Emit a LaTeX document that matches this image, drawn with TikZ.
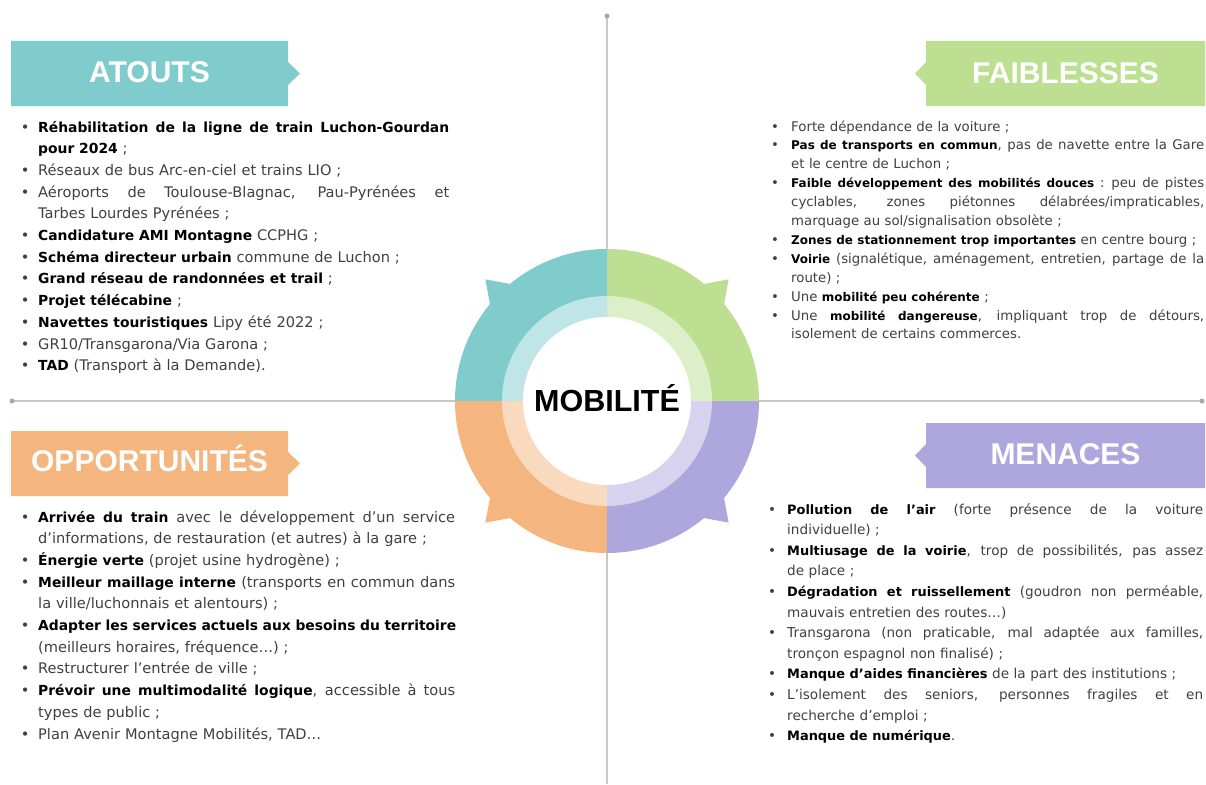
\documentclass[tikz,border=0pt]{standalone}
\usepackage{fontspec}
\setmainfont{DejaVu Sans}
\newfontfamily\headfont{Liberation Sans}
\newfontfamily\boldfam{DejaVu Sans}[Scale=0.95]
\newfontfamily\boldfamS{DejaVu Sans}[Scale=0.90]
\definecolor{tealc}{HTML}{80CBCC}
\definecolor{teall}{HTML}{BFE5E6}
\definecolor{greenc}{HTML}{BCDF91}
\definecolor{greenl}{HTML}{DDEFC8}
\definecolor{orangec}{HTML}{F4B57F}
\definecolor{orangel}{HTML}{F9DABF}
\definecolor{purplec}{HTML}{AEA7DE}
\definecolor{purplel}{HTML}{D7D3EF}
\definecolor{textgray}{HTML}{404040}
\definecolor{axisc}{HTML}{C8C8C8}
\definecolor{axisdot}{HTML}{A8A8A8}
\newlength\bw \newlength\jw
\let\curbold\boldfam
\newcommand\bfx[1]{{\curbold\bfseries\color{black}#1}}
\newcommand\bul{\makebox[\bw][l]{•}}
\newcommand\jsp{\spaceskip=\fontdimen2\font plus 1fill\relax}
\newcommand\ItJ[1]{\noindent\bul\makebox[\jw][s]{\jsp#1}\par}
\newcommand\ItL[1]{\noindent\bul#1\par}
\newcommand\CoJ[1]{\noindent\hspace*{\bw}\makebox[\jw][s]{\jsp#1}\par}
\newcommand\CoL[1]{\noindent\hspace*{\bw}#1\par}
\tikzset{
  axis/.style={draw=axisc, line width=1.2pt},
  head/.style={font=\headfont\bfseries\fontsize{30}{30}\selectfont, text=white, inner sep=0pt, text height=21.5pt, text depth=0pt},
  blk/.style={inner sep=0pt, anchor=base west, align=left, text=textgray},
}
\begin{document}
\begin{tikzpicture}[x=1pt,y=-1pt]
\useasboundingbox (0,0) rectangle (1206,784);
\fill[white] (0,0) rectangle (1206,784);
% axes
\coordinate (vt) at (607,16);
\coordinate (vb) at (607,784);
\coordinate (hl) at (12,401);
\coordinate (hr) at (1202,401);
\draw[axis] (vt) -- (vb);
\draw[axis] (hl) -- (hr);
\fill[axisdot] (vt) circle (2.5);
\fill[axisdot] (hl) circle (2.5);
\fill[axisdot] (hr) circle (2.5);
% banners
\fill[tealc] (11,41) -- (288,41) -- (288,62) -- (300,73.5) -- (288,85) -- (288,106) -- (11,106) -- cycle;
\node[head] (hA) at (149.5,71.5) {ATOUTS};
\fill[greenc] (926,41) -- (1205,41) -- (1205,106) -- (926,106) -- (926,85) -- (915,73.5) -- (926,62) -- cycle;
\node[head] (hF) at (1065.5,72.5) {FAIBLESSES};
\fill[orangec] (11,431) -- (288,431) -- (288,452) -- (300,463.5) -- (288,475) -- (288,496) -- (11,496) -- cycle;
\node[head] (hO) at (149.5,461) {OPPORTUNITÉS};
\fill[purplec] (926,423) -- (1205,423) -- (1205,488) -- (926,488) -- (926,467) -- (915,455.5) -- (926,444) -- cycle;
\node[head] (hM) at (1065.5,454) {MENACES};
% central wheel
\begin{scope}[shift={(607,401)}, yscale=-1]
  \fill[greenc] (0,0) -- (0:152) arc[start angle=0, end angle=90, radius=152] -- cycle;
  \fill[tealc] (0,0) -- (90:152) arc[start angle=90, end angle=180, radius=152] -- cycle;
  \fill[orangec] (0,0) -- (180:152) arc[start angle=180, end angle=270, radius=152] -- cycle;
  \fill[purplec] (0,0) -- (270:152) arc[start angle=270, end angle=360, radius=152] -- cycle;
  \fill[greenc] (39:150) -- (45:172) -- (51:150) -- cycle;
  \fill[tealc] (129:150) -- (135:172) -- (141:150) -- cycle;
  \fill[orangec] (219:150) -- (225:172) -- (231:150) -- cycle;
  \fill[purplec] (309:150) -- (315:172) -- (321:150) -- cycle;
  \fill[greenl] (0,0) -- (0:105) arc[start angle=0, end angle=90, radius=105] -- cycle;
  \fill[teall] (0,0) -- (90:105) arc[start angle=90, end angle=180, radius=105] -- cycle;
  \fill[orangel] (0,0) -- (180:105) arc[start angle=180, end angle=270, radius=105] -- cycle;
  \fill[purplel] (0,0) -- (270:105) arc[start angle=270, end angle=360, radius=105] -- cycle;
  \fill[white] (0,0) circle (84);
\end{scope}
\node[font=\headfont\bfseries\fontsize{30.5}{30.5}\selectfont, inner sep=0pt, text height=21.8pt, text depth=0pt] (mob) at (607,401) {MOBILITÉ};
% ATOUTS list
\node[blk, text width=470pt, font=\fontsize{14.6}{21.7}\selectfont] (tA) at (20.6,132) {\setlength\bw{17.4pt}\setlength\jw{411pt}%
\ItJ{\bfx{Réhabilitation de la ligne de train Luchon-Gourdan}}
\CoL{\bfx{pour 2024} ;}
\ItL{Réseaux de bus Arc-en-ciel et trains LIO ;}
\ItJ{Aéroports de Toulouse-Blagnac, Pau-Pyrénées et}
\CoL{Tarbes Lourdes Pyrénées ;}
\ItL{\bfx{Candidature AMI Montagne} CCPHG ;}
\ItL{\bfx{Schéma directeur urbain} commune de Luchon ;}
\ItL{\bfx{Grand réseau de randonnées et trail} ;}
\ItL{\bfx{Projet télécabine} ;}
\ItL{\bfx{Navettes touristiques} Lipy été 2022 ;}
\ItL{GR10/Transgarona/Via Garona ;}
\ItL{\bfx{TAD} (Transport à la Demande).}};
% FAIBLESSES list
\node[blk, text width=440pt, font=\fontsize{13.3}{18.9}\selectfont] (tF) at (771,131) {\let\curbold\boldfamS\setlength\bw{20pt}\setlength\jw{413pt}%
\ItL{Forte dépendance de la voiture ;}
\ItJ{\bfx{Pas de transports en commun}, pas de navette entre la Gare}
\CoL{et le centre de Luchon ;}
\ItJ{\bfx{Faible développement des mobilités douces} : peu de pistes}
\CoJ{cyclables, zones piétonnes délabrées/impraticables,}
\CoL{marquage au sol/signalisation obsolète ;}
\ItL{\bfx{Zones de stationnement trop importantes} en centre bourg ;}
\ItJ{\bfx{Voirie} (signalétique, aménagement, entretien, partage de la}
\CoL{route) ;}
\ItL{Une \bfx{mobilité peu cohérente} ;}
\ItJ{Une \bfx{mobilité dangereuse}, impliquant trop de détours,}
\CoL{isolement de certains commerces.}};
% OPPORTUNITES list
\node[blk, text width=470pt, font=\fontsize{14.6}{21.7}\selectfont] (tO) at (20.6,522) {\setlength\bw{17.4pt}\setlength\jw{417pt}%
\ItJ{\bfx{Arrivée du train} avec le développement d'un service}
\CoL{d'informations, de restauration (et autres) à la gare ;}
\ItL{\bfx{Énergie verte} (projet usine hydrogène) ;}
\ItJ{\bfx{Meilleur maillage interne} (transports en commun dans}
\CoL{la ville/luchonnais et alentours) ;}
\ItJ{\bfx{Adapter les services actuels aux besoins du territoire}}
\CoL{(meilleurs horaires, fréquence…) ;}
\ItL{Restructurer l'entrée de ville ;}
\ItJ{\bfx{Prévoir une multimodalité logique}, accessible à tous}
\CoL{types de public ;}
\ItL{Plan Avenir Montagne Mobilités, TAD…}};
% MENACES list
\node[blk, text width=440pt, font=\fontsize{13.6}{20.6}\selectfont] (tM) at (768,514) {\setlength\bw{19pt}\setlength\jw{416pt}%
\ItJ{\bfx{Pollution de l’air} (forte présence de la voiture}
\CoL{individuelle) ;}
\ItJ{\bfx{Multiusage de la voirie}, trop de possibilités, pas assez}
\CoL{de place ;}
\ItJ{\bfx{Dégradation et ruissellement} (goudron non perméable,}
\CoL{mauvais entretien des routes…)}
\ItJ{Transgarona (non praticable, mal adaptée aux familles,}
\CoL{tronçon espagnol non finalisé) ;}
\ItL{\bfx{Manque d’aides financières} de la part des institutions ;}
\ItJ{L'isolement des seniors, personnes fragiles et en}
\CoL{recherche d'emploi ;}
\ItL{\bfx{Manque de numérique}.}};
\end{tikzpicture}
\end{document}
